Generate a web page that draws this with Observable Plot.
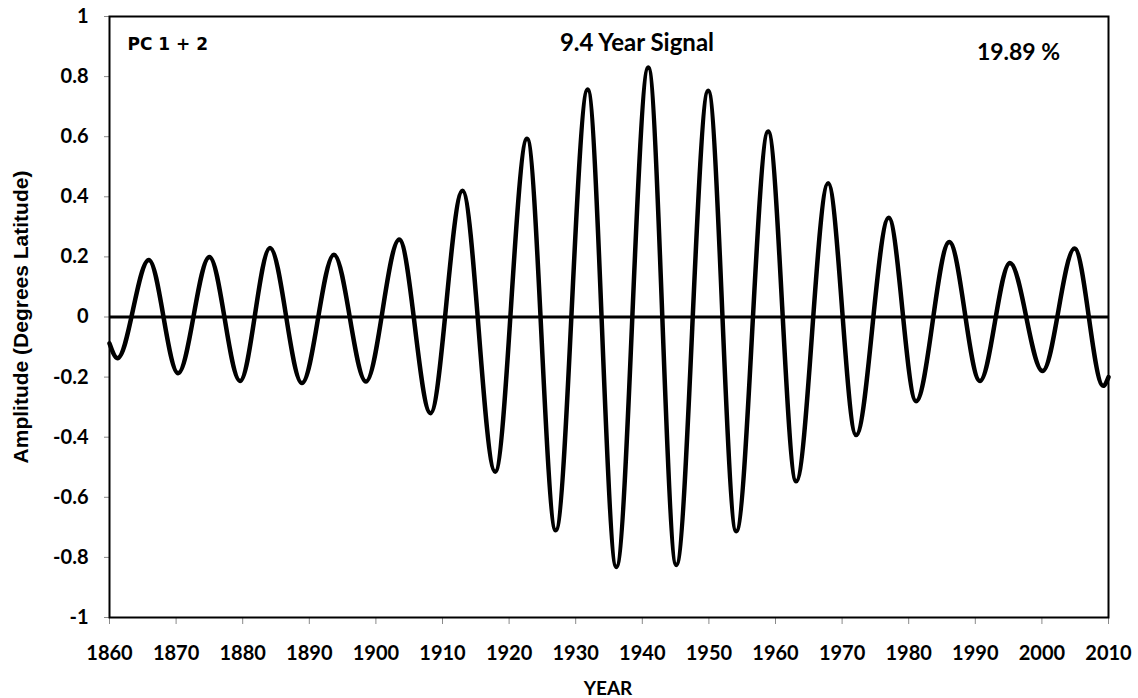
<!DOCTYPE html>
<html>
<head>
<meta charset="utf-8">
<script src="https://cdn.jsdelivr.net/npm/d3@7"></script>
<script src="https://cdn.jsdelivr.net/npm/@observablehq/plot@0.6"></script>
<style>
  html, body { margin: 0; padding: 0; background: #fff; }
  #chart svg { display: block; }
</style>
</head>
<body>
<div id="chart"></div>
<script>
// Extrema (and end points) of the 9.4-year signal
const years = [1860, 1861.2, 1865.9, 1870.3, 1875.0, 1879.6, 1884.1, 1888.9, 1893.7, 1898.5,
  1903.5, 1908.2, 1913.0, 1917.9, 1922.7, 1927.0, 1931.8, 1936.1, 1940.9, 1945.1,
  1949.9, 1954.1, 1958.9, 1963.1, 1967.9, 1972.1, 1977.0, 1981.1, 1986.1, 1990.7,
  1995.2, 2000.1, 2004.9, 2009.2, 2010];
const amplitude = [-0.088, -0.137, 0.19, -0.187, 0.20, -0.213, 0.23, -0.22, 0.207, -0.215,
  0.258, -0.32, 0.42, -0.515, 0.593, -0.71, 0.757, -0.832, 0.83, -0.825,
  0.753, -0.713, 0.617, -0.547, 0.445, -0.393, 0.33, -0.28, 0.25, -0.213,
  0.18, -0.18, 0.228, -0.229, -0.2];
const xTicks = [1860, 1870, 1880, 1890, 1900, 1910, 1920, 1930, 1940, 1950, 1960, 1970, 1980, 1990, 2000, 2010];
const yTicks = [-1, -0.8, -0.6, -0.4, -0.2, 0, 0.2, 0.4, 0.6, 0.8, 1];
const title = "9.4 Year Signal";
const panelLabel = "PC 1 + 2";
const percent = "19.89 %";
const xLabel = "YEAR";
const yLabel = "Amplitude (Degrees Latitude)";

const data = years.map((year, i) => ({year, value: amplitude[i]}));

const chart = Plot.plot({
  width: 1138,
  height: 698,
  marginLeft: 109,
  marginRight: 30,
  marginTop: 16,
  marginBottom: 81,
  style: {fontFamily: "Lato, sans-serif", fontWeight: "bold", fontSize: "20px", color: "#000", background: "#fff"},
  x: {domain: [1860, 2010]},
  y: {domain: [-1, 1]},
  marks: [
    Plot.axisX({ticks: xTicks, tickFormat: d => String(d), tickSize: 7, tickPadding: 21, stroke: "#8a8a8a", fill: "#000", label: null}),
    Plot.axisY({ticks: yTicks, tickFormat: d => String(+d.toFixed(1)), tickSize: 5, tickPadding: 16, stroke: "#8a8a8a", fill: "#000", label: null}),
    Plot.ruleY([0], {stroke: "#000", strokeWidth: 3}),
    Plot.line(data, {x: "year", y: "value", curve: "monotone-x", stroke: "#000", strokeWidth: 4.5}),
    Plot.frame({stroke: "#000", strokeWidth: 2}),
    Plot.text([panelLabel], {frameAnchor: "top-left", dx: 18, dy: 28, textAnchor: "start", lineAnchor: "middle", fontFamily: "DejaVu Sans", fontWeight: "bold", fontSize: 17, fill: "#000"}),
    Plot.text([title], {frameAnchor: "top", dx: 28, dy: 27, textAnchor: "middle", lineAnchor: "middle", fontFamily: "Lato", fontWeight: "bold", fontSize: 24, fill: "#000"}),
    Plot.text([percent], {frameAnchor: "top-right", dx: -90, dy: 36, textAnchor: "middle", lineAnchor: "middle", fontFamily: "Lato", fontWeight: "bold", fontSize: 23, fill: "#000"}),
    Plot.text([xLabel], {frameAnchor: "bottom", dx: -1, dy: 71, textAnchor: "middle", lineAnchor: "middle", fontFamily: "Lato", fontWeight: "bold", fontSize: 19, fill: "#000"}),
    Plot.text([yLabel], {frameAnchor: "left", dx: -88, dy: 0, rotate: -90, textAnchor: "middle", lineAnchor: "middle", fontFamily: "Liberation Sans", fontWeight: "bold", fontSize: 21, fill: "#000"})
  ]
});
document.getElementById("chart").appendChild(chart);
</script>
</body>
</html>
